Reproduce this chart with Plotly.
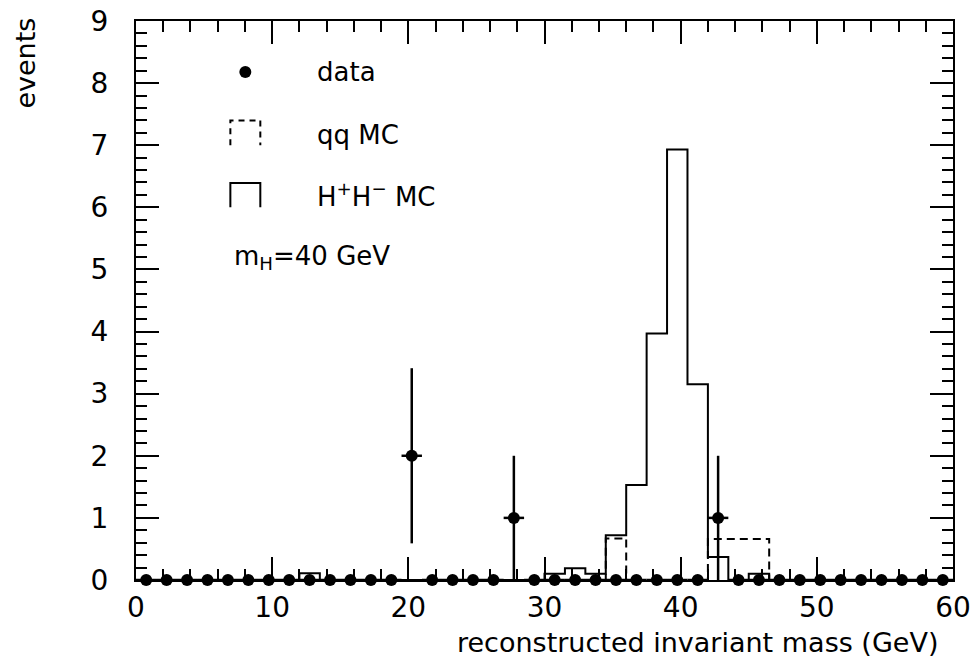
import numpy as np
import plotly.graph_objects as go

# ---- data (40 bins of 1.5 GeV from 0 to 60) ----
bin_edges = [1.5 * i for i in range(41)]
data_counts = [0]*13 + [2] + [0]*4 + [1] + [0]*9 + [1] + [0]*11
data_errors = [0]*13 + [1.41] + [0]*4 + [1.0] + [0]*9 + [1.0] + [0]*11
signal_mc = ([0]*8 + [0.11] + [0]*11 +
             [0.10, 0.19, 0.10, 0.72, 1.53, 3.97, 6.93, 3.15, 0.37, 0.0, 0.10] +
             [0]*9)
qq_mc = [0]*23 + [0.67] + [0]*4 + [0.66, 0.66, 0.66] + [0]*9

x_ticks = [0, 10, 20, 30, 40, 50, 60]
y_ticks = [0, 1, 2, 3, 4, 5, 6, 7, 8, 9]

centers = [(bin_edges[i] + bin_edges[i+1]) / 2 for i in range(40)]
half_w = [(bin_edges[i+1] - bin_edges[i]) / 2 for i in range(40)]

def step_xy(vals):
    xs = list(bin_edges)
    ys = list(vals) + [vals[-1]]
    return xs, ys

FONT = "DejaVu Sans"
fig = go.Figure()

sx, sy = step_xy(signal_mc)
fig.add_trace(go.Scatter(x=sx, y=sy, mode="lines", line=dict(color="black", width=2, shape="hv"),
                         showlegend=False, hoverinfo="skip"))
qx, qy = step_xy(qq_mc)
fig.add_trace(go.Scatter(x=qx, y=qy, mode="lines",
                         line=dict(color="black", width=2, shape="hv", dash="8px,5px"),
                         showlegend=False, hoverinfo="skip"))
fig.add_trace(go.Scatter(
    x=centers, y=data_counts, mode="markers",
    marker=dict(color="black", size=12),
    error_y=dict(type="data", array=data_errors, color="black", thickness=2.5, width=0),
    error_x=dict(type="data", array=half_w, color="black", thickness=2.5, width=0),
    cliponaxis=False, showlegend=False))

# legend (drawn inside the frame)
fig.add_trace(go.Scatter(x=[8.03], y=[8.18], mode="markers", marker=dict(color="black", size=12),
                         showlegend=False, hoverinfo="skip"))
fig.add_shape(type="path", path="M 6.93 7.0 L 6.93 7.4 L 9.13 7.4 L 9.13 7.0",
              line=dict(color="black", width=2, dash="6px,5px"), xref="x", yref="y")
fig.add_shape(type="path", path="M 6.93 6.0 L 6.93 6.39 L 9.13 6.39 L 9.13 6.0",
              line=dict(color="black", width=2), xref="x", yref="y")

legend_font = dict(family=FONT, size=26, color="black")
for txt, yy, xx in [("data", 8.18, 13.17), ("qq MC", 7.16, 13.17),
                    ("H<sup>+</sup>H<sup>−</sup> MC", 6.2, 13.17),
                    ("m<sub>H</sub>=40 GeV", 5.2, 7.05)]:
    fig.add_annotation(x=xx, y=yy, xref="x", yref="y", text=txt, showarrow=False,
                       xanchor="left", yanchor="middle", font=legend_font)

fig.add_annotation(x=0.984, y=-0.112, xref="paper", yref="paper",
                   text="reconstructed invariant mass (GeV)", showarrow=False,
                   xanchor="right", yanchor="middle", font=dict(family=FONT, size=27, color="black"))
fig.add_annotation(x=-0.135, y=1.01, xref="paper", yref="paper", text="events", textangle=-90,
                   showarrow=False, xanchor="center", yanchor="top",
                   font=dict(family=FONT, size=27, color="black"))

axis_common = dict(showline=True, linecolor="black", linewidth=2, mirror="ticks",
                   ticks="inside", ticklen=23, tickwidth=1.5, tickcolor="black",
                   showgrid=False, zeroline=False, automargin=False,
                   tickfont=dict(family=FONT, size=28, color="black"))
fig.update_xaxes(range=[0, 60], tickvals=x_ticks, ticktext=[str(v) for v in x_ticks],
                 ticklabelstandoff=1,
                 minor=dict(dtick=2, ticks="inside", ticklen=11, tickwidth=1.5, tickcolor="black", showgrid=False),
                 **axis_common)
fig.update_yaxes(range=[0, 9], tickvals=y_ticks, ticktext=[str(v) for v in y_ticks],
                 ticklabelstandoff=20,
                 minor=dict(dtick=0.2, ticks="inside", ticklen=11, tickwidth=1.5, tickcolor="black", showgrid=False),
                 **axis_common)

fig.update_layout(width=975, height=664, autosize=False,
                  margin=dict(l=136, r=22, t=21, b=84),
                  plot_bgcolor="white", paper_bgcolor="white",
                  font=dict(family=FONT, color="black"))
fig.write_html("out.html", config={"displayModeBar": False},
               post_script="document.body.style.margin='0px';")
